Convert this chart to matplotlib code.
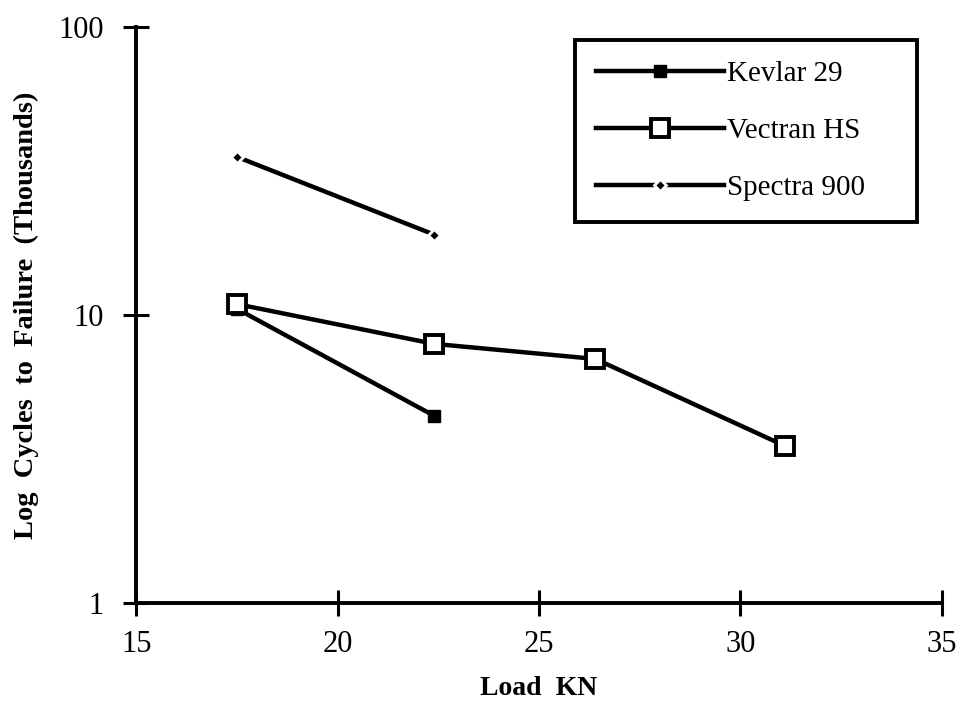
import matplotlib
matplotlib.use("Agg")
import matplotlib.pyplot as plt
from matplotlib.ticker import FixedLocator, NullLocator, FixedFormatter

kevlar_x = [17.5, 22.4]
kevlar_y = [10.5, 4.46]
vectran_x = [17.5, 22.4, 26.4, 31.1]
vectran_y = [10.9, 7.93, 7.03, 3.51]
spectra_x = [17.5, 22.4]
spectra_y = [35.4, 19.0]

x_ticks = [15, 20, 25, 30, 35]
y_ticks = [1, 10, 100]
y_tick_labels = ["1", "10", "100"]

plt.rcParams['font.family'] = ['Liberation Serif', 'DejaVu Serif']

fig = plt.figure(figsize=(9.59, 7.10), dpi=100)
ax = fig.add_axes([0.142, 0.151, 0.840, 0.811])

ax.plot(kevlar_x, kevlar_y, color='black', lw=3.2, marker='s', ms=8,
        markerfacecolor='black', markeredgecolor='black', label='Kevlar 29', zorder=2)
ax.plot(vectran_x, vectran_y, color='black', lw=3.2, marker='s', ms=13,
        markerfacecolor='white', markeredgecolor='black', markeredgewidth=2.8,
        label='Vectran HS', zorder=3)
ax.plot(spectra_x, spectra_y, color='black', lw=3.2, marker='D', ms=6.5,
        markerfacecolor='black', markeredgecolor='white', markeredgewidth=2,
        label='Spectra 900', zorder=2)

ax.set_yscale('log')
ax.set_xlim(15, 35)
ax.set_ylim(1, 100)
ax.xaxis.set_major_locator(FixedLocator(x_ticks))
ax.yaxis.set_major_locator(FixedLocator(y_ticks))
ax.yaxis.set_major_formatter(FixedFormatter(y_tick_labels))
ax.yaxis.set_minor_locator(NullLocator())

for s in ['top', 'right']:
    ax.spines[s].set_visible(False)
for s in ['left', 'bottom']:
    ax.spines[s].set_linewidth(2.8)

ax.tick_params(axis='both', which='major', direction='inout', length=19, width=2.2,
               labelsize=22)
ax.tick_params(axis='y', pad=14)
ax.tick_params(axis='x', pad=10)

ax.set_xlabel('Load  KN', fontsize=20, fontweight='bold', labelpad=12)
ax.set_ylabel('Log  Cycles  to  Failure  (Thousands)', fontsize=20.5, fontweight='bold', labelpad=14)

leg = ax.legend(loc='upper left', bbox_to_anchor=(0.545, 0.70, 0.424, 0.277), mode='expand',
                fontsize=21, frameon=True, fancybox=False, edgecolor='black', framealpha=1,
                handlelength=4.4, handletextpad=0.1, borderpad=0.7, labelspacing=1.05,
                borderaxespad=0)
leg.get_frame().set_linewidth(2.8)

fig.savefig('out.png', dpi=100, facecolor='white')
